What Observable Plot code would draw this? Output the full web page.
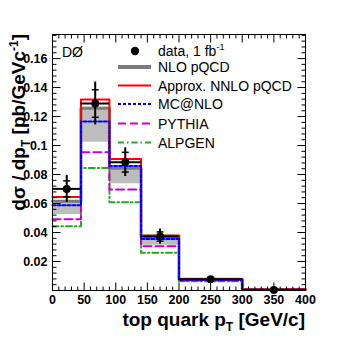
<!DOCTYPE html>
<html><head><meta charset="utf-8">
<script src="https://cdn.jsdelivr.net/npm/d3@7"></script>
<script src="https://cdn.jsdelivr.net/npm/@observablehq/plot@0.6"></script>
<style>body{margin:0;background:#fff} #chart{width:346px;height:346px}</style>
</head><body><div id="chart"></div>
<script>
// ---- data ----
const binEdges     = [0, 45, 90, 140, 200, 300, 400];
const dataValues   = [0.0701, 0.1290, 0.0885, 0.0372, 0.0077, 0.0004];
const dataErrTotal = [0.0093, 0.0148, 0.0099, 0.0052, 0.0014, 0.0003];
const dataErrStat  = [0.0055, 0.0095, 0.0068, 0.0032, 0.0009, 0.0002];
const nloValues    = [0.0615, 0.1258, 0.0843, 0.0376, 0.0077, 0.0007];
const nloBandLow   = [0.0524, 0.1023, 0.0736, 0.0312, 0.0064, 0.0004];
const nloBandHigh  = [0.0620, 0.1264, 0.0846, 0.0381, 0.0079, 0.0008];
const nnloValues   = [0.0645, 0.1318, 0.0908, 0.0378, 0.0080, 0.0008];
const mcnloValues  = [0.0588, 0.1166, 0.0858, 0.0356, 0.0074, 0.0006];
const pythiaValues = [0.0491, 0.0954, 0.0697, 0.0306, 0.0069, 0.0006];
const alpgenValues = [0.0443, 0.0845, 0.0609, 0.0260, 0.0064, 0.0005];
const xTicks = [0, 50, 100, 150, 200, 250, 300, 350, 400];
const xTickLabels = ["0", "50", "100", "150", "200", "250", "300", "350", "400"];
const yTicks = [0.02, 0.04, 0.06, 0.08, 0.1, 0.12, 0.14, 0.16];
const yTickLabels = ["0.02", "0.04", "0.06", "0.08", "0.1", "0.12", "0.14", "0.16"];
const legendLabels = ["data, 1 fb", "NLO pQCD", "Approx. NNLO pQCD", "MC@NLO", "PYTHIA", "ALPGEN"];

// ---- derived tables ----
const bins = dataValues.map((v, i) => ({
  lo: binEdges[i], hi: binEdges[i + 1], c: (binEdges[i] + binEdges[i + 1]) / 2,
  v, tot: dataErrTotal[i], stat: dataErrStat[i],
  bl: nloBandLow[i], bh: nloBandHigh[i]
}));
const steps = vals => binEdges.map((e, i) => ({x: e, y: vals[Math.min(i, vals.length - 1)]}));
const xMinor = d3.range(0, 401, 10).filter(d => d % 50 !== 0);
const yMinor = d3.range(0, 45).map(i => i * 0.004).filter((d, i) => i % 5 !== 0);

// symbols for ticks
const sym = (dx, dy) => ({draw(ctx) { ctx.moveTo(0, 0); ctx.lineTo(dx, dy); }});
const hBar = w => ({draw(ctx) { ctx.moveTo(-w, 0); ctx.lineTo(w, 0); }});

const RED = "#ff0000", BLUE = "#0000ff", MAG = "#cc00cc", GRN = "#22aa22";
const tickStyle = {stroke: "black", fill: "none", strokeWidth: 1};

const plot = Plot.plot({
  width: 346, height: 346,
  marginLeft: 52, marginRight: 41, marginTop: 34, marginBottom: 56,
  x: {domain: [0, 400]},
  y: {domain: [0, 0.1766]},
  style: {fontFamily: "'Liberation Sans', Arial, sans-serif", background: "white", color: "black"},
  marks: [
    Plot.rect(bins, {x1: "lo", x2: "hi", y1: "bl", y2: "bh", fill: "#bdbdbd"}),
    Plot.line(steps(nloValues), {x: "x", y: "y", curve: "step-after", stroke: "#7a7a7a", strokeWidth: 3}),
    Plot.line(steps(nnloValues), {x: "x", y: "y", curve: "step-after", stroke: RED, strokeWidth: 2}),
    Plot.line(steps(alpgenValues), {x: "x", y: "y", curve: "step-after", stroke: GRN, strokeWidth: 2, strokeDasharray: "6,3,1.5,3"}),
    Plot.line(steps(pythiaValues), {x: "x", y: "y", curve: "step-after", stroke: MAG, strokeWidth: 2, strokeDasharray: "8,4"}),
    Plot.line(steps(mcnloValues), {x: "x", y: "y", curve: "step-after", stroke: BLUE, strokeWidth: 2, strokeDasharray: "3,2"}),
    // data
    Plot.ruleY(bins, {x1: "lo", x2: "hi", y: "v", stroke: "black", strokeWidth: 2}),
    Plot.ruleX(bins, {x: "c", y1: d => d.v - d.tot, y2: d => d.v + d.tot, stroke: "black", strokeWidth: 2}),
    Plot.dot(bins, {x: "c", y: d => d.v + d.stat, symbol: hBar(3.5), stroke: "black", strokeWidth: 1.5, fill: "none"}),
    Plot.dot(bins, {x: "c", y: d => d.v - d.stat, symbol: hBar(3.5), stroke: "black", strokeWidth: 1.5, fill: "none"}),
    Plot.dot(bins, {x: "c", y: "v", r: 4, fill: "black", stroke: "none"}),
    // ticks (inside frame, ROOT style)
    Plot.dot(xTicks, {x: d => d, frameAnchor: "bottom", symbol: sym(0, -8), ...tickStyle}),
    Plot.dot(xMinor, {x: d => d, frameAnchor: "bottom", symbol: sym(0, -4), ...tickStyle}),
    Plot.dot(xTicks, {x: d => d, frameAnchor: "top", symbol: sym(0, 8), ...tickStyle}),
    Plot.dot(xMinor, {x: d => d, frameAnchor: "top", symbol: sym(0, 4), ...tickStyle}),
    Plot.dot(yTicks, {y: d => d, frameAnchor: "left", symbol: sym(8, 0), ...tickStyle}),
    Plot.dot(yMinor, {y: d => d, frameAnchor: "left", symbol: sym(4, 0), ...tickStyle}),
    Plot.dot(yTicks, {y: d => d, frameAnchor: "right", symbol: sym(-8, 0), ...tickStyle}),
    Plot.dot(yMinor, {y: d => d, frameAnchor: "right", symbol: sym(-4, 0), ...tickStyle}),
    Plot.axisX(xTicks, {tickSize: 0, tickPadding: 5, label: null, fontSize: 12.5, fontWeight: "bold",
      tickFormat: (d, i) => xTickLabels[xTicks.indexOf(d)]}),
    Plot.axisY(yTicks, {tickSize: 0, tickPadding: 5, label: null, fontSize: 12.5, fontWeight: "bold",
      tickFormat: d => yTickLabels[yTicks.indexOf(d)]}),
    Plot.frame({stroke: "black", strokeWidth: 1})
  ]
});
document.getElementById("chart").appendChild(plot);

// ---- annotations: legend, titles ----
const svg = d3.select(plot);
const F = "'Liberation Sans', Arial, sans-serif";
const g = svg.append("g").attr("font-family", F).attr("font-size", 14).attr("text-anchor", "start");
const rowY = [51, 67, 85.5, 104, 123.5, 142.5];
const legendStyles = [
  null,
  {stroke: "#7a7a7a", w: 4, dash: null},
  {stroke: RED, w: 2, dash: null},
  {stroke: BLUE, w: 2, dash: "3,2"},
  {stroke: MAG, w: 2, dash: "8,4"},
  {stroke: GRN, w: 2, dash: "6,3,1.5,3"}
];
legendLabels.forEach((lab, i) => {
  const y = rowY[i];
  if (i === 0) {
    g.append("circle").attr("cx", 135).attr("cy", y).attr("r", 4.2).attr("fill", "black");
  } else {
    const s = legendStyles[i];
    g.append("line").attr("x1", 118).attr("x2", 151).attr("y1", y).attr("y2", y)
      .attr("stroke", s.stroke).attr("stroke-width", s.w).attr("stroke-dasharray", s.dash);
  }
  const t = g.append("text").attr("x", 158).attr("y", y + 5).attr("fill", "black").text(lab);
  if (i === 0) t.append("tspan").attr("font-size", 9).attr("dy", -6).text("-1");
});
svg.append("text").attr("x", 62).attr("y", 57).attr("text-anchor", "start")
  .attr("font-family", F).attr("font-size", 14).text("DØ");

// x title
const xt = svg.append("text").attr("x", 305).attr("y", 326).attr("text-anchor", "end")
  .attr("font-family", F).attr("font-size", 19).attr("font-weight", "bold");
xt.append("tspan").text("top quark p");
xt.append("tspan").attr("font-size", 12).attr("dy", 5).text("T");
xt.append("tspan").attr("dy", -5).text(" [GeV/c]");

// y title
const yt = svg.append("text").attr("transform", "translate(25,34) rotate(-90)").attr("text-anchor", "end")
  .attr("font-family", F).attr("font-size", 19).attr("font-weight", "bold");
yt.append("tspan").text("dσ / dp");
yt.append("tspan").attr("font-size", 12).attr("dy", 5).text("T");
yt.append("tspan").attr("dy", -5).text(" [pb/GeVc");
yt.append("tspan").attr("font-size", 12).attr("dy", -7).text("-1");
yt.append("tspan").attr("dy", 7).text("]");
</script></body></html>
